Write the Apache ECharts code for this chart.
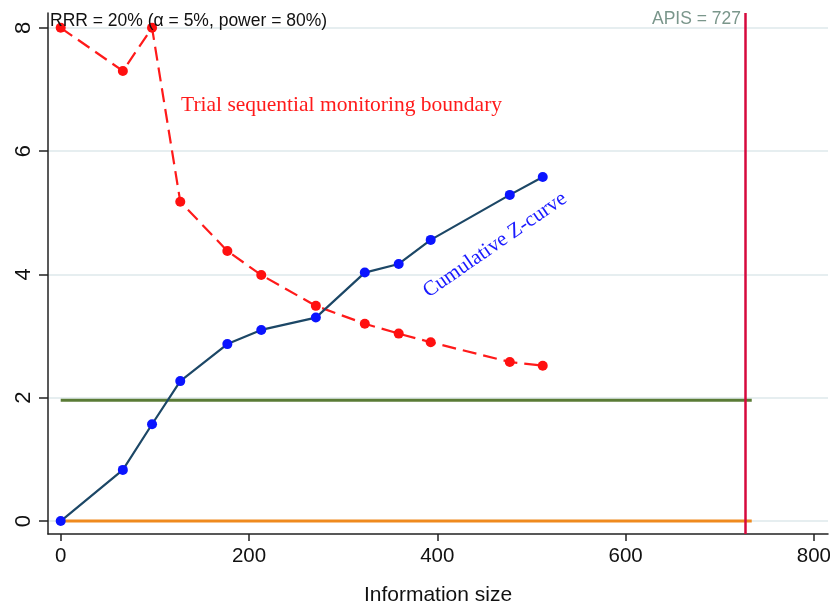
<!DOCTYPE html>
<html>
<head>
<meta charset="utf-8">
<script src="https://cdn.jsdelivr.net/npm/echarts@6/dist/echarts.min.js"></script>
<style>
  html, body { margin: 0; padding: 0; background: #fff; }
  #chart { width: 830px; height: 601px; }
</style>
</head>
<body>
<div id="chart"></div>
<script>
// information size at each interim look
const infoSize = [0, 66, 97, 127, 177, 213, 271, 323, 359, 393, 477, 512];
// monitoring boundary (z) and cumulative z-curve
const boundaryZ = [8, 7.3, 8, 5.18, 4.38, 3.99, 3.49, 3.2, 3.04, 2.9, 2.58, 2.52];
const cumulativeZ = [0, 0.83, 1.57, 2.27, 2.87, 3.1, 3.3, 4.03, 4.17, 4.56, 5.29, 5.58];
// conventional boundary, null line, required information size
const convX = [0, 734];
const convZ = 1.96;
const nullZ = 0;
const apis = 727;
const xTicks = [0, 200, 400, 600, 800];
const yTicks = [0, 2, 4, 6, 8];

const chart = echarts.init(document.getElementById("chart"));

const pairs = (xs, ys) => xs.map((x, i) => [x, ys[i]]);
const sans = "'Liberation Sans', Arial, sans-serif";
const serif = "'Liberation Serif', 'Times New Roman', serif";

const option = {
  animation: false,
  grid: {
    left: 48, right: 2, top: 13, bottom: 67,
    containLabel: false, outerBoundsMode: "none"
  },
  xAxis: {
    type: "value",
    min: -13.5,
    max: 815,
    name: "Information size",
    nameLocation: "middle",
    nameGap: 51,
    nameTextStyle: { fontFamily: sans, fontSize: 21, color: "#111" },
    axisLine: { show: true, onZero: false, lineStyle: { color: "#222", width: 1.5 } },
    axisTick: {
      show: true, length: 7, lineStyle: { color: "#222", width: 1.5 },
      customValues: xTicks
    },
    axisLabel: {
      margin: 12, fontFamily: sans, fontSize: 20.5, color: "#111",
      customValues: xTicks, showMinLabel: true, showMaxLabel: true
    },
    splitLine: { show: false }
  },
  yAxis: {
    type: "value",
    min: -0.21,
    max: 8.24,
    axisLine: { show: true, onZero: false, lineStyle: { color: "#222", width: 1.5 } },
    axisTick: {
      show: true, length: 9, lineStyle: { color: "#222", width: 1.5 },
      customValues: yTicks
    },
    axisLabel: {
      rotate: 90, margin: 13, fontFamily: sans, fontSize: 22, color: "#111",
      customValues: yTicks
    },
    splitLine: { show: false }
  },
  series: [
    {
      // light grid lines
      type: "line",
      data: [],
      silent: true,
      z: 0,
      markLine: {
        silent: true,
        z: 0,
        symbol: "none",
        label: { show: false },
        lineStyle: { color: "#e6eef0", width: 2, type: "solid" },
        data: yTicks.map((v) => ({ yAxis: v }))
      }
    },
    {
      name: "null",
      type: "line",
      data: convX.map((x) => [x, nullZ]),
      showSymbol: false,
      lineStyle: { color: "#ef8a1e", width: 3 },
      z: 3
    },
    {
      name: "conventional",
      type: "line",
      data: convX.map((x) => [x, convZ]),
      showSymbol: false,
      lineStyle: { color: "#5a7b36", width: 3 },
      z: 3
    },
    {
      name: "APIS",
      type: "line",
      data: [],
      markLine: {
        silent: true,
        z: 4,
        symbol: "none",
        label: { show: false },
        lineStyle: { color: "#d6093d", width: 2.5, type: "solid" },
        data: [{ xAxis: apis }]
      },
      z: 4
    },
    {
      name: "Trial sequential monitoring boundary",
      type: "line",
      data: pairs(infoSize, boundaryZ),
      symbol: "circle",
      symbolSize: 10,
      itemStyle: { color: "#ff1010" },
      lineStyle: { color: "#ff1a1a", width: 2.2, type: [14, 7] },
      z: 5
    },
    {
      name: "Cumulative Z-curve",
      type: "line",
      data: pairs(infoSize, cumulativeZ),
      symbol: "circle",
      symbolSize: 10,
      itemStyle: { color: "#0a14ff" },
      lineStyle: { color: "#1c4766", width: 2.2 },
      z: 6
    }
  ],
  graphic: [
    {
      type: "text", left: 50, top: 12, z: 10,
      style: {
        text: "RRR = 20% (\u03b1 = 5%, power = 80%)",
        font: "17.5px " + sans,
        fill: "#111"
      }
    },
    {
      type: "text", right: 89, top: 10, z: 10,
      style: {
        text: "APIS = 727",
        font: "17.5px " + sans,
        fill: "#7a968b"
      }
    },
    {
      type: "text", left: 181, top: 94, z: 10,
      style: {
        text: "Trial sequential monitoring boundary",
        font: "21.5px " + serif,
        fill: "#ff1a1a"
      }
    },
    {
      type: "text", x: 495, y: 245, rotation: 34.7 * Math.PI / 180, z: 10,
      style: {
        text: "Cumulative Z-curve",
        font: "21px " + serif,
        fill: "#1a1aff",
        align: "center",
        verticalAlign: "middle"
      }
    }
  ]
};

chart.setOption(option);
</script>
</body>
</html>
